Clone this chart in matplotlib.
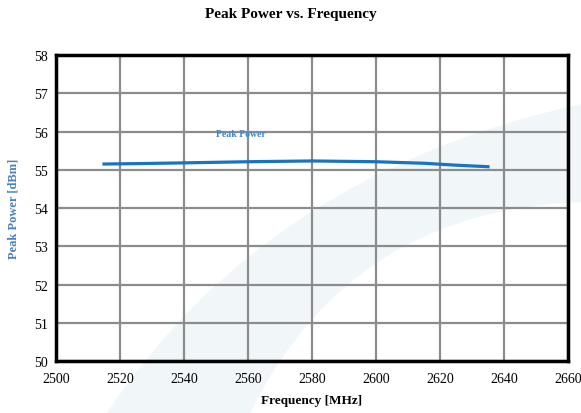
import matplotlib
matplotlib.use("Agg")
import matplotlib.pyplot as plt
from matplotlib.patches import PathPatch
from matplotlib.path import Path
import numpy as np

freq = [2515, 2525, 2540, 2560, 2580, 2600, 2615, 2625, 2635]
power = [55.15, 55.16, 55.18, 55.21, 55.23, 55.21, 55.17, 55.12, 55.08]
xticks = [2500, 2520, 2540, 2560, 2580, 2600, 2620, 2640, 2660]
yticks = [50, 51, 52, 53, 54, 55, 56, 57, 58]

plt.rcParams['font.family'] = ['Liberation Serif', 'DejaVu Serif']

fig = plt.figure(figsize=(5.81, 4.14), dpi=100)

# faint watermark arc band (figure coords)
W, H = 581, 414
def fp(x, y):
    return (x / W, 1 - y / H)
verts = [fp(107, 414), fp(265, 175), fp(581, 105), fp(581, 203),
         fp(350, 211), fp(250, 414), fp(107, 414)]
codes = [Path.MOVETO, Path.CURVE3, Path.CURVE3, Path.LINETO,
         Path.CURVE3, Path.CURVE3, Path.CLOSEPOLY]
band = PathPatch(Path(verts, codes), transform=fig.transFigure,
                 facecolor='#f1f6f8', edgecolor='none', zorder=-1)
fig.patches.append(band)

ax = fig.add_axes([0.0964, 0.1256, 0.8812, 0.7391])
ax.set_facecolor('none')
ax.plot(freq, power, color='#1a73c2', lw=2.3, zorder=3)
ax.set_xlim(2500, 2660)
ax.set_ylim(50, 58)
ax.set_xticks(xticks)
ax.set_yticks(yticks)
ax.grid(True, color='#8c8c8c', lw=1.6)
ax.set_axisbelow(True)
for s in ax.spines.values():
    s.set_linewidth(2.5)
    s.set_color('black')
ax.tick_params(axis='both', length=0, labelsize=10, pad=6)
ax.tick_params(axis='x', pad=8)
ax.text(2550, 55.95, 'Peak Power', color='#3f86c8', fontsize=7,
        fontweight='bold', ha='left', va='center')

fig.text(0.5, 0.966, 'Peak Power vs. Frequency', ha='center', va='center',
         fontsize=11, fontweight='bold')
fig.text(0.537, 0.031, 'Frequency [MHz]', ha='center', va='center',
         fontsize=9.5, fontweight='bold')
fig.text(0.024, 0.495, 'Peak Power [dBm]', ha='center', va='center',
         rotation=90, fontsize=9, fontweight='bold', color='#4a80c4')

fig.savefig('out.png', dpi=100)
